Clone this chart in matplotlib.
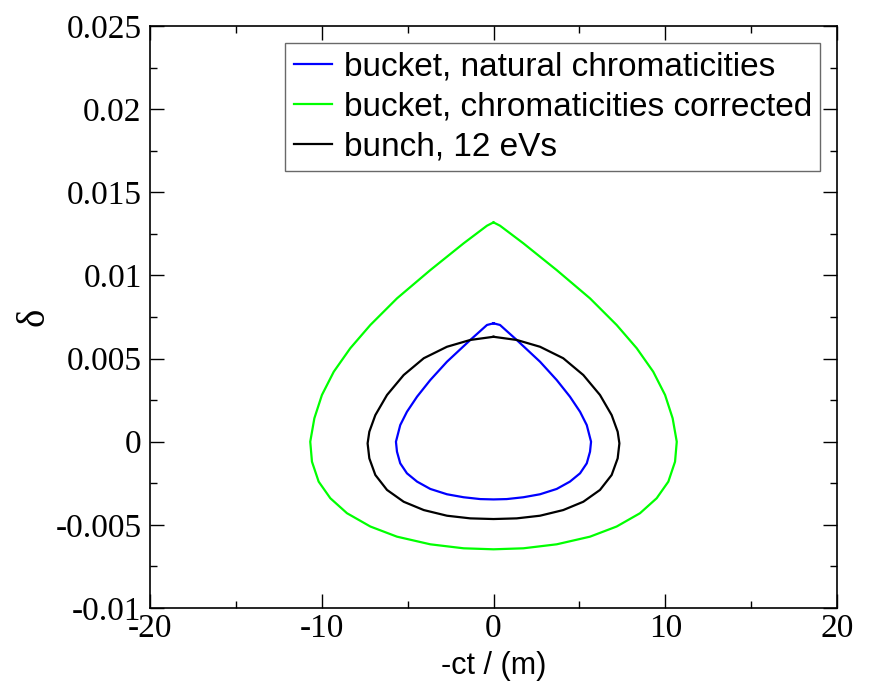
import numpy as np
import matplotlib
matplotlib.use('Agg')
import matplotlib.pyplot as plt
from matplotlib.ticker import MultipleLocator

# right halves of the curves (x in m, delta), mirrored below
natural_x = [0.0, 0.38, 1.35, 2.71, 3.68, 4.45, 5.04, 5.43, 5.68, 5.62, 5.43,
             5.04, 4.45, 3.68, 2.71, 1.74, 0.77, 0.0]
natural_d = [0.00712, 0.00702, 0.00612, 0.00481, 0.00371, 0.00271, 0.0018,
             0.0010, 0.0, -0.0006, -0.0013, -0.0019, -0.0024, -0.00284,
             -0.00316, -0.00334, -0.00345, -0.00347]

corrected_x = [0.0, 0.38, 1.74, 3.68, 5.62, 7.17, 8.34, 9.30, 9.99, 10.43,
               10.67, 10.57, 10.18, 9.50, 8.53, 7.17, 5.62, 3.68, 1.74, 0.0]
corrected_d = [0.01319, 0.01299, 0.01193, 0.01032, 0.00862, 0.00702, 0.00562,
               0.00421, 0.00281, 0.00141, 0.0, -0.0012, -0.0024, -0.0034,
               -0.0043, -0.0051, -0.00571, -0.00617, -0.00641, -0.00647]

bunch_x = [0.0, 1.35, 2.71, 4.06, 5.23, 6.20, 6.88, 7.23, 7.33, 7.23, 6.88,
           6.20, 5.23, 4.06, 2.71, 1.35, 0.0]
bunch_d = [0.00631, 0.00612, 0.00571, 0.00502, 0.00401, 0.00281, 0.0016,
           0.0006, -0.0001, -0.0010, -0.0020, -0.0029, -0.00361, -0.00411,
           -0.00445, -0.00461, -0.00465]

labels = ['bucket, natural chromaticities',
          'bucket, chromaticities corrected',
          'bunch, 12 eVs']
colors = ['#0000ff', '#00ff00', '#000000']


def closed(xs, ds):
    xs = np.array(xs)
    ds = np.array(ds)
    return (np.concatenate([xs, -xs[::-1]]),
            np.concatenate([ds, ds[::-1]]))


W, H = 872, 683
fig = plt.figure(figsize=(W / 100, H / 100), dpi=100)
ax = fig.add_axes([150 / W, (H - 608) / H, 687 / W, 582 / H])

for (xs, ds), lab, c in zip([closed(natural_x, natural_d),
                             closed(corrected_x, corrected_d),
                             closed(bunch_x, bunch_d)], labels, colors):
    ax.plot(xs, ds, color=c, lw=1.6, label=lab, solid_joinstyle='round')

ax.set_xlim(-20, 20)
ax.set_ylim(-0.01, 0.025)
ax.xaxis.set_minor_locator(MultipleLocator(5))
ax.yaxis.set_minor_locator(MultipleLocator(0.0025))
ax.tick_params(which='both', direction='in', top=True, right=True, width=1)
ax.tick_params(which='major', length=10)
ax.tick_params(which='minor', length=5)
for s in ax.spines.values():
    s.set_linewidth(1.2)

serif = 'Liberation Serif'
xt = [-20, -10, 0, 10, 20]
yt = [-0.01, -0.005, 0, 0.005, 0.01, 0.015, 0.02, 0.025]
ax.set_xticks(xt)
ax.set_xticklabels(['-20', '-10', '0', '10', '20'], family=serif, fontsize=24)
ax.set_yticks(yt)
ax.set_yticklabels(['-0.01', '-0.005', '0', '0.005', '0.01', '0.015', '0.02', '0.025'],
                   family=serif, fontsize=24)
ax.tick_params(axis='x', pad=4)
ax.tick_params(axis='y', pad=6)

ax.set_xlabel('-ct / (m)', family='Liberation Sans', fontsize=22, labelpad=5)
ax.set_ylabel('δ', family=serif, fontsize=28, labelpad=2)

leg = ax.legend(loc='upper right', bbox_to_anchor=(0.9755, 0.971),
                prop={'family': 'Liberation Sans', 'size': 24},
                frameon=True, fancybox=False, handlelength=1.15,
                handletextpad=0.35, borderpad=0.25, labelspacing=0.28,
                borderaxespad=0)
leg.get_frame().set_edgecolor('#444444')
leg.get_frame().set_linewidth(1.0)

fig.savefig('out.png', dpi=100)
